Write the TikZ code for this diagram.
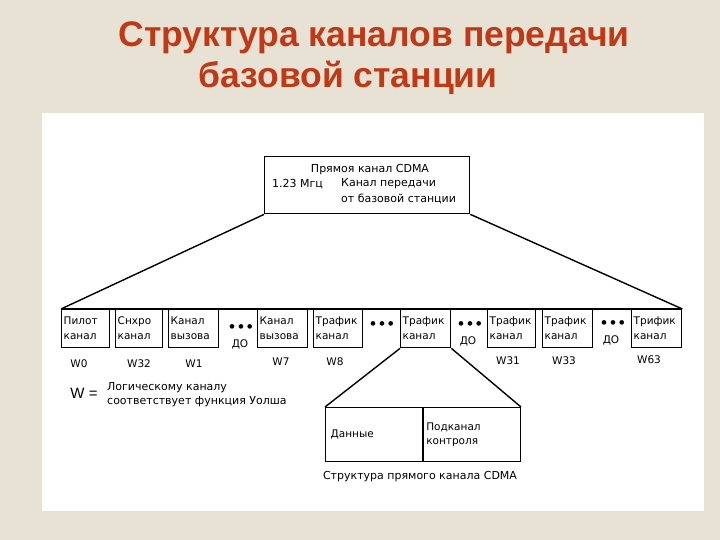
\documentclass[tikz,border=0pt]{standalone}
\usepackage{fontspec}
\setmainfont{Liberation Sans}
\newfontfamily\dv{DejaVu Sans}
\definecolor{bg}{RGB}{232,226,213}
\definecolor{ttl}{RGB}{192,57,23}
\newcommand{\twoline}[2]{\strut #1\\\strut #2}
\begin{document}
\begin{tikzpicture}[x=1pt,y=-1pt,
  ln/.style={line width=1.4pt},
  chbox/.style={draw, line width=1.4pt, minimum height=38pt, inner xsep=2pt, inner ysep=1pt,
    align=left, font=\dv\fontsize{10.5}{15}\selectfont, anchor=north west, text width=#1},
  wlab/.style={font=\dv\fontsize{10.5}{12}\selectfont},
  dots/.style={font=\fontsize{17}{17}\selectfont, inner sep=0pt},
  dolab/.style={font=\dv\fontsize{10.5}{12}\selectfont},
  txt/.style={font=\dv\fontsize{11}{14}\selectfont, inner sep=0pt},
  titl/.style={font=\fontsize{35.5}{40}\selectfont\bfseries, text=ttl, anchor=base, inner sep=0pt}]
\useasboundingbox (0,0) rectangle (720,540);
\fill[bg] (0,0) rectangle (720,540);
\fill[white] (42,113) rectangle (704,511);
% title
\node[titl] (title1) at (374,47) {Структура каналов передачи};
\node[titl] (title2) at (348,88) {базовой станции};
% top box
\node[draw, ln, minimum width=205pt, minimum height=57pt, anchor=north west, inner sep=0pt] (top) at (264,156) {};
\node[txt] (t1) at (370,170) {Прямоя канал CDMA};
\node[txt, anchor=west] (t2) at (272,184) {1.23 Мгц};
\node[txt, anchor=west] (t3) at (341,184) {Канал передачи};
\node[txt, anchor=west] (t4) at (341,199) {от базовой станции};
% channel row
\node[chbox=44pt] (b1) at (61,309) {\twoline{Пилот}{канал}};
\node[chbox=43pt] (b2) at (115,309) {\twoline{Снхро}{канал}};
\node[chbox=46pt] (b3) at (168,309) {\twoline{Канал}{вызова}};
\node[chbox=46pt] (b5) at (257,309) {\twoline{Канал}{вызова}};
\node[chbox=45pt] (b6) at (313,309) {\twoline{Трафик}{канал}};
\node[chbox=46pt] (b8) at (400,309) {\twoline{Трафик}{канал}};
\node[chbox=44pt] (b10) at (487,309) {\twoline{Трафик}{канал}};
\node[chbox=46pt] (b11) at (542,309) {\twoline{Трафик}{канал}};
\node[chbox=46pt] (b13) at (631,309) {\twoline{Трифик}{канал}};
% dots
\node[dots] (d1) at (241,329) {•\,•\,•};
\node[dolab] (do1) at (240,344) {ДО};
\node[dots] (d2) at (382,326) {•\,•\,•};
\node[dots] (d3) at (470,326) {•\,•\,•};
\node[dolab] (do3) at (468,341) {ДО};
\node[dots] (d4) at (613,325) {•\,•\,•};
\node[dolab] (do4) at (611,340) {ДО};
% W labels
\node[wlab] (w0) at (79,364) {W0};
\node[wlab] (w32) at (139,364) {W32};
\node[wlab] (w1) at (194,364) {W1};
\node[wlab] (w7) at (281,362) {W7};
\node[wlab] (w8) at (335,362) {W8};
\node[wlab] (w31) at (508,361) {W31};
\node[wlab] (w33) at (564,361) {W33};
\node[wlab] (w63) at (649,360) {W63};
% legend
\node[font=\fontsize{15}{15}\selectfont, inner sep=0pt] (weq) at (84,393) {W =};
\node[txt, anchor=north west, align=left] (leg) at (107,382) {Логическому каналу\\соответствует функция Уолша};
% sub structure
\node[draw, ln, minimum width=98pt, minimum height=54pt, anchor=north west, inner xsep=5pt, text width=88pt, align=left, font=\dv\fontsize{10.5}{14}\selectfont] (data) at (325,407) {Данные};
\node[draw, ln, minimum width=98pt, minimum height=54pt, anchor=north east, inner xsep=4pt, text width=90pt, align=left, font=\dv\fontsize{10.5}{14}\selectfont] (ctrl) at (521,407) {Подканал\\контроля};
\node[txt] (cap) at (420,477) {Структура прямого канала CDMA};
% connectors
\draw[ln] (top.south west) -- (b1.north west);
\draw[ln] (top.south east) -- (b13.north east);
\draw[ln] (b1.north west) -- (b13.north east);
\draw[ln] (b8.south west) -- (data.north west);
\draw[ln] (b8.south east) -- (ctrl.north east);
\end{tikzpicture}
\end{document}
